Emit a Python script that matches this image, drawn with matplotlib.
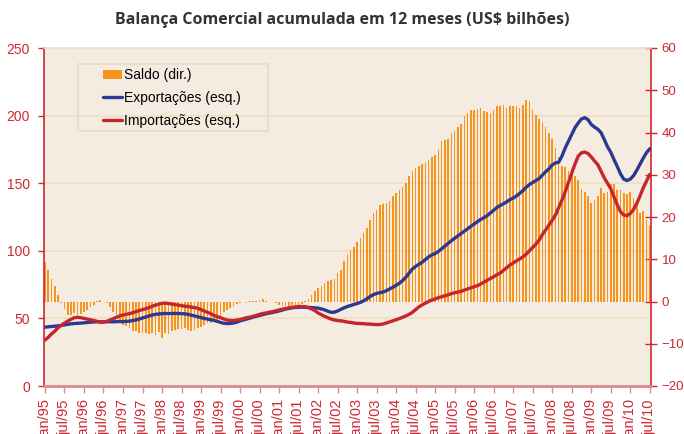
import numpy as np
import matplotlib
matplotlib.use('Agg')
import matplotlib.pyplot as plt
import matplotlib.transforms as mtransforms
from matplotlib.patches import Rectangle

# monthly values, jan/95 .. jul/10 (12 month accumulated, US$ bi)
exportacoes = [
    43.5, 43.8, 44.0, 44.2, 44.5, 44.8, 45.2, 45.6, 46.0, 46.2, 46.4, 46.5,
    46.7, 47.0, 47.2, 47.4, 47.5, 47.5, 47.5, 47.6, 47.5, 47.5, 47.6, 47.7,
    47.6, 47.8, 48.0, 48.4, 48.9, 49.5, 50.3, 51.0, 51.8, 52.5, 53.0, 53.3,
    53.5, 53.6, 53.6, 53.6, 53.7, 53.6, 53.5, 53.4, 53.0, 52.4, 51.8, 51.2,
    50.6, 50.0, 49.5, 49.0, 48.5, 47.8, 47.0, 46.4, 46.2, 46.3, 46.6, 47.2,
    48.2, 48.8, 49.5, 50.2, 50.9, 51.6, 52.2, 52.8, 53.4, 53.9, 54.4, 54.9,
    55.5, 56.2, 56.9, 57.4, 57.8, 58.1, 58.2, 58.3, 58.2, 58.1, 58.0, 57.8,
    57.6, 57.0, 56.3, 55.3, 54.5, 54.6, 55.5, 56.7, 57.8, 58.8, 59.5, 60.3,
    61.0, 61.8, 63.0, 64.5, 66.2, 67.5, 68.5, 69.0, 69.5, 70.5, 71.8, 73.0,
    74.5, 76.0, 78.0, 80.5, 83.5, 86.5, 88.5, 90.0, 91.5, 93.5, 95.5, 97.0,
    98.0, 99.5, 101.5, 103.5, 105.5, 107.5, 109.3, 111.0, 112.8, 114.5, 116.3, 118.2,
    119.8, 121.5, 123.2, 124.5, 126.0, 128.0, 130.0, 132.0, 133.5, 134.8, 136.2, 137.8,
    139.0, 140.5, 142.5, 144.5, 147.0, 149.0, 150.5, 152.0, 153.5, 156.0, 158.5, 160.6,
    163.5, 165.0, 165.5, 170.0, 176.0, 181.0, 186.0, 191.0, 194.5, 197.5, 198.5, 197.0,
    193.5, 191.5, 190.0, 187.5, 182.5, 177.0, 173.0, 167.5, 162.5, 157.0, 153.0, 152.0,
    153.0, 155.5, 159.5, 164.0, 168.5, 172.5, 175.5,
]

importacoes = [
    34.0, 36.0, 38.5, 40.5, 43.0, 45.0, 46.5, 48.0, 49.3, 50.5, 50.8, 50.5,
    50.0, 49.5, 49.0, 48.5, 47.8, 47.2, 47.2, 47.8, 48.8, 49.8, 50.8, 51.8,
    52.5, 53.0, 53.5, 54.2, 55.0, 55.8, 56.5, 57.2, 58.0, 59.0, 59.8, 60.5,
    61.2, 61.3, 61.0, 60.6, 60.2, 59.8, 59.4, 59.0, 58.8, 58.3, 58.0, 57.5,
    56.5, 55.5, 54.5, 53.5, 52.2, 51.3, 50.5, 49.6, 48.8, 48.5, 48.5, 48.8,
    49.2, 49.8, 50.5, 50.9, 51.5, 52.2, 53.0, 53.6, 54.0, 54.6, 55.0, 55.6,
    56.2, 56.8, 57.3, 57.8, 58.2, 58.5, 58.8, 58.8, 58.6, 58.0, 57.0, 55.8,
    54.0, 52.8, 51.5, 50.5, 49.5, 48.8, 48.4, 48.2, 47.8, 47.3, 47.0, 46.6,
    46.3, 46.2, 46.1, 45.8, 45.8, 45.6, 45.4, 45.5, 45.9, 46.6, 47.4, 48.2,
    49.0, 49.9, 50.8, 51.8, 53.0, 54.5, 56.5, 58.5, 60.0, 61.3, 62.5, 63.6,
    64.5, 65.3, 66.0, 66.7, 67.5, 68.3, 69.0, 69.5, 70.0, 71.0, 71.8, 72.6,
    73.5, 74.2, 75.5, 76.8, 78.2, 79.5, 80.8, 82.3, 83.5, 85.5, 87.5, 89.5,
    91.0, 92.5, 94.0, 95.5, 97.5, 100.0, 102.5, 105.0, 108.0, 112.0, 115.5, 119.0,
    122.5, 126.5, 132.0, 137.5, 143.5, 150.5, 157.5, 164.0, 170.0, 172.5, 173.0, 172.0,
    169.5, 166.5, 163.8, 159.0, 154.0, 150.0, 146.0, 140.0, 134.0, 129.0, 126.5, 126.0,
    127.5, 130.5, 135.0, 140.5, 146.5, 151.5, 156.5,
]

saldo = [
    9.3, 7.4, 5.4, 3.6, 1.6, -0.4, -1.8, -3.2, -3.3, -2.8, -3.2, -2.9,
    -2.6, -2.0, -1.3, -0.8, 0.1, 0.4, -0.2, -0.3, -1.3, -2.4, -3.6, -5.0,
    -5.5, -5.9, -6.3, -7.0, -7.1, -7.4, -7.4, -7.5, -7.7, -7.5, -7.9, -7.2,
    -8.7, -7.5, -7.7, -6.9, -6.7, -6.6, -6.4, -6.3, -6.7, -7.0, -6.7, -6.3,
    -6.1, -5.5, -5.1, -5.0, -4.7, -4.4, -3.6, -2.4, -2.0, -1.6, -1.0, -0.6,
    -0.4, -0.2, -0.3, 0.15, 0.2, 0.2, 0.4, 0.6, 0.2, 0.0, -0.2, -0.4,
    -0.8, -0.95, -0.95, -0.95, -0.8, -0.8, -0.8, -0.6, 0.15, 0.55, 1.6, 2.6,
    3.2, 3.6, 4.4, 4.75, 5.0, 5.3, 6.7, 7.5, 9.5, 11.0, 12.2, 13.0,
    14.2, 15.0, 16.2, 17.4, 19.3, 20.9, 21.7, 22.9, 23.1, 23.3, 23.8, 24.9,
    25.7, 26.4, 27.2, 28.0, 29.6, 30.8, 31.6, 32.0, 32.6, 32.9, 33.5, 34.3,
    34.7, 35.9, 37.9, 38.3, 38.4, 39.9, 40.3, 41.4, 42.1, 43.8, 44.5, 45.4,
    45.4, 45.5, 45.8, 45.0, 44.8, 44.6, 45.4, 46.2, 46.3, 46.6, 45.8, 46.3,
    46.2, 46.2, 45.8, 46.6, 47.8, 47.5, 45.4, 44.2, 43.2, 42.6, 41.3, 39.9,
    38.4, 36.3, 34.3, 32.0, 31.8, 30.8, 30.8, 29.6, 28.8, 26.6, 26.0, 24.9,
    23.3, 24.1, 24.9, 26.8, 25.7, 26.0, 27.9, 27.9, 26.4, 26.4, 25.7, 25.5,
    25.8, 24.5, 23.3, 20.9, 21.5, 19.3, 17.8,
]

tick_labels = ['jan/95', 'jul/95', 'jan/96', 'jul/96', 'jan/97', 'jul/97',
               'jan/98', 'jul/98', 'jan/99', 'jul/99', 'jan/00', 'jul/00',
               'jan/01', 'jul/01', 'jan/02', 'jul/02', 'jan/03', 'jul/03',
               'jan/04', 'jul/04', 'jan/05', 'jul/05', 'jan/06', 'jul/06',
               'jan/07', 'jul/07', 'jan/08', 'jul/08', 'jan/09', 'jul/09',
               'jan/10', 'jul/10']

RED = '#cc2936'
PINK = '#dc8a8e'
BG = '#f4ece0'
GRID = '#efdfc0'

plt.rcParams['font.family'] = ['Liberation Sans', 'DejaVu Sans']

months = np.arange(len(saldo))

fig = plt.figure(figsize=(6.84, 4.34), dpi=100)
ax = fig.add_axes([44/684, 48/434, 606.7/684, 338/434])
ax2 = ax.twinx()

# lines axes on top, bars axes underneath with the background
ax.set_zorder(2)
ax.patch.set_visible(False)
ax2.set_zorder(1)
ax2.patch.set_visible(True)
ax2.patch.set_facecolor(BG)

ax2.bar(months, saldo, width=0.5, color='#f7941d', zorder=2, label='Saldo (dir.)')
ax2.set_ylim(-20, 60)
ax2.set_yticks(np.arange(-20, 61, 10))

ax.plot(months, exportacoes, color='#2b3990', lw=2.4, label='Exportações (esq.)',
        solid_capstyle='round')
ax.plot(months, importacoes, color='#c4262e', lw=2.4, label='Importações (esq.)',
        solid_capstyle='round')
ax.set_ylim(0, 250)
ax.set_yticks(np.arange(0, 251, 50))
ax.set_xlim(-0.3, len(saldo) - 0.7)
ax.set_xticks(np.arange(0, len(saldo), 6))
ax.set_xticklabels(tick_labels, rotation=90, va='top', ha='center')

# horizontal grid of the left scale, drawn under the bars
trans = mtransforms.blended_transform_factory(ax2.transAxes, ax.transData)
for v in ax.get_yticks()[1:-1]:
    ax2.plot([0, 1], [v, v], color=GRID, lw=1.2, transform=trans, zorder=1)

for s in ['left', 'right', 'top', 'bottom']:
    ax2.spines[s].set_visible(False)
ax2.spines['right'].set_visible(True)
ax2.spines['right'].set_color(RED)
ax2.spines['right'].set_linewidth(1.2)
ax.spines['right'].set_visible(False)
ax.spines['left'].set_color(RED)
ax.spines['left'].set_linewidth(1.2)
ax.spines['bottom'].set_color(PINK)
ax.spines['bottom'].set_linewidth(2)
ax.spines['top'].set_color(GRID)
ax.spines['top'].set_linewidth(1.2)

ax.tick_params(axis='y', direction='out', length=4, width=1, color=RED,
               labelcolor=RED, labelsize=10, pad=6)
ax.tick_params(axis='x', direction='out', length=5, width=1, color=PINK,
               labelcolor=RED, labelsize=10.5, pad=4.5)
ax2.tick_params(axis='y', direction='inout', length=8, width=1, color=RED,
                labelcolor=RED, labelsize=9.5, pad=4)
ax2.tick_params(axis='x', length=0, labelbottom=False)

# legend
h1, l1 = ax2.get_legend_handles_labels()
h2, l2 = ax.get_legend_handles_labels()
leg = ax.legend(h1 + h2, l1 + l2, loc='upper left', bbox_to_anchor=(0.0972, 0.94),
                frameon=False, borderpad=0, borderaxespad=0, fontsize=10,
                handlelength=1.4, handleheight=0.6, handletextpad=0.15,
                labelspacing=0.62)
ax.add_patch(Rectangle((0.0555, 0.7553), 0.3132, 0.1965, transform=ax.transAxes,
                       facecolor='none', edgecolor='#eadcc0', lw=1.2, zorder=1))

fig.text(0.5, 1 - 20/434, 'Balança Comercial acumulada em 12 meses (US$ bilhões)',
         ha='center', va='center', fontsize=11.5, fontweight='bold', color='#333333',
         family=['Open Sans', 'DejaVu Sans'])

fig.savefig('out.png', dpi=100, facecolor='white')
